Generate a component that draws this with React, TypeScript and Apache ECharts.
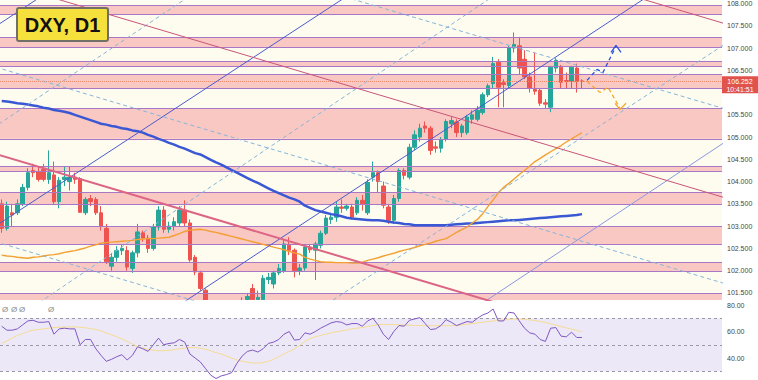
import React, { useEffect, useRef } from "react";
import * as echarts from "echarts";

// ---------- data ----------
const title = "DXY, D1";
const lastPrice = 106.252;
const countdown = "10:41:51";

// [open, close, low, high]
const candles: number[][] = [
  [103.5, 102.95, 102.85, 103.6], [102.95, 103.45, 102.9, 103.55], [103.3, 103.25, 102.98, 103.5], [103.3, 103.5, 103.25, 103.6],
  [103.5, 103.87, 103.45, 103.95], [103.87, 104.2, 103.8, 104.3], [104.25, 104.2, 104.1, 104.4], [104.22, 104.05, 104.0, 104.35],
  [104.27, 104.05, 104.0, 104.4], [104.05, 104.2, 103.95, 104.7], [104.15, 103.55, 103.5, 104.45], [103.55, 104.03, 103.4, 104.1],
  [104.05, 104.1, 103.9, 104.35], [104.0, 104.1, 103.8, 104.35], [104.1, 104.05, 103.95, 104.2], [104.07, 103.31, 103.3, 104.1],
  [103.3, 103.6, 103.25, 103.65], [103.62, 103.55, 103.45, 103.7], [103.6, 103.3, 103.25, 103.65], [103.3, 103.0, 102.9, 103.45],
  [102.95, 102.2, 102.15, 103.05], [102.1, 102.3, 102.0, 102.4], [102.3, 102.45, 102.2, 102.55], [102.45, 102.5, 102.35, 102.6],
  [102.45, 102.08, 102.0, 102.55], [102.05, 102.4, 101.95, 102.45], [102.4, 102.87, 102.3, 103.05], [102.85, 102.73, 102.65, 102.9],
  [102.73, 102.5, 102.4, 102.8], [102.5, 102.98, 102.45, 103.05], [102.98, 103.36, 102.9, 103.45], [103.36, 102.93, 102.85, 103.45],
  [102.93, 103.0, 102.85, 103.1], [103.0, 103.1, 102.9, 103.2], [103.07, 103.36, 103.0, 103.45], [103.36, 103.07, 103.0, 103.58],
  [103.07, 102.24, 102.2, 103.15], [102.3, 101.97, 101.9, 102.35], [101.95, 101.6, 101.55, 102.0], [101.56, 101.2, 101.1, 101.6],
  [101.2, 100.95, 100.85, 101.3], [100.95, 100.75, 100.6, 101.05], [100.75, 100.9, 100.65, 101.0], [100.9, 101.05, 100.8, 101.15],
  [101.05, 100.85, 100.75, 101.1], [100.85, 101.15, 100.8, 101.25], [101.15, 101.3, 101.05, 101.4], [101.35, 101.42, 101.25, 101.5],
  [101.6, 101.35, 101.25, 101.7], [101.35, 101.4, 101.3, 101.55], [101.35, 101.83, 101.3, 101.9], [101.8, 101.85, 101.7, 101.95],
  [101.7, 101.95, 101.6, 102.0], [101.95, 102.05, 101.9, 102.15], [102.0, 102.6, 101.95, 102.7], [102.57, 102.46, 102.35, 102.75],
  [102.46, 102.0, 101.85, 102.5], [102.0, 102.06, 101.9, 102.15], [102.06, 102.53, 102.0, 102.6], [102.53, 102.47, 102.4, 102.6],
  [102.46, 102.6, 101.79, 102.65], [102.57, 102.84, 102.5, 102.9], [102.84, 103.18, 102.8, 103.25], [103.15, 103.2, 103.05, 103.3],
  [103.2, 103.43, 103.1, 103.55], [103.43, 103.4, 103.3, 103.6], [103.4, 103.45, 103.35, 103.5], [103.43, 103.2, 103.15, 103.5],
  [103.3, 103.58, 103.25, 103.65], [103.58, 103.5, 103.35, 103.7], [103.3, 103.98, 103.25, 104.05], [104.1, 104.2, 104.0, 104.45],
  [104.2, 104.0, 103.75, 104.25], [103.9, 103.47, 103.4, 104.0], [103.43, 103.13, 103.05, 103.5], [103.13, 103.62, 103.05, 103.7],
  [103.62, 104.25, 103.55, 104.3], [104.25, 104.14, 104.05, 104.3], [104.1, 104.77, 104.05, 104.85], [104.77, 105.05, 104.7, 105.15],
  [105.0, 105.2, 104.9, 105.3], [105.25, 105.2, 105.1, 105.35], [105.2, 104.7, 104.6, 105.25], [104.78, 104.75, 104.65, 104.9],
  [104.75, 104.95, 104.65, 105.0], [104.95, 105.35, 104.9, 105.4], [105.3, 105.37, 105.2, 105.45], [105.34, 105.1, 105.0, 105.4],
  [105.1, 105.25, 105.0, 105.3], [105.1, 105.45, 105.05, 105.5], [105.4, 105.5, 105.3, 105.6], [105.4, 105.6, 105.35, 105.7],
  [105.55, 105.95, 105.5, 106.0], [105.95, 106.15, 105.9, 106.2], [106.2, 106.65, 106.1, 106.8], [106.68, 106.12, 105.67, 106.75],
  [106.22, 106.18, 105.67, 106.3], [106.16, 107.0, 106.1, 107.05], [107.0, 107.08, 106.9, 107.35], [107.05, 106.55, 106.4, 107.25],
  [106.75, 106.35, 106.3, 106.95], [106.35, 106.1, 106.0, 106.45], [106.07, 106.03, 105.95, 106.9], [106.05, 105.76, 105.7, 106.1],
  [105.77, 105.74, 105.65, 105.85], [105.67, 106.57, 105.56, 106.6], [106.55, 106.72, 106.45, 106.78], [106.57, 106.23, 106.1, 106.62],
  [106.27, 106.25, 106.1, 106.45], [106.25, 106.57, 106.1, 106.6], [106.55, 106.25, 106.0, 106.65], [106.26, 106.252, 106.1, 106.3],
];

const ma200 = [
  105.81, 105.8, 105.78, 105.76, 105.75, 105.73, 105.71, 105.69, 105.66, 105.64, 105.61, 105.59, 105.57, 105.54, 105.5, 105.46,
  105.42, 105.38, 105.34, 105.3, 105.28, 105.25, 105.23, 105.2, 105.18, 105.15, 105.13, 105.1, 105.05, 105.01, 104.96, 104.92,
  104.87, 104.83, 104.78, 104.74, 104.69, 104.64, 104.61, 104.55, 104.49, 104.43, 104.38, 104.32, 104.26, 104.2, 104.14, 104.08,
  104.02, 103.97, 103.91, 103.85, 103.79, 103.74, 103.69, 103.64, 103.6, 103.55, 103.46, 103.41, 103.36, 103.33, 103.3, 103.27,
  103.25, 103.22, 103.19, 103.17, 103.16, 103.15, 103.14, 103.13, 103.13, 103.12, 103.1, 103.08, 103.07, 103.05, 103.04, 103.02,
  103.02, 103.02, 103.02, 103.02, 103.02, 103.02, 103.03, 103.04, 103.05, 103.06, 103.06, 103.07, 103.08, 103.09, 103.1, 103.11,
  103.12, 103.13, 103.13, 103.14, 103.15, 103.16, 103.17, 103.18, 103.19, 103.2, 103.21, 103.22, 103.23, 103.24, 103.25, 103.27,
];

const ma50 = [
  102.35, 102.33, 102.32, 102.3, 102.29, 102.28, 102.3, 102.31, 102.33, 102.35, 102.36, 102.38, 102.41, 102.43, 102.45, 102.48,
  102.51, 102.55, 102.58, 102.62, 102.63, 102.64, 102.65, 102.66, 102.67, 102.68, 102.7, 102.71, 102.72, 102.72, 102.73, 102.74,
  102.75, 102.79, 102.83, 102.88, 102.91, 102.92, 102.93, 102.91, 102.88, 102.86, 102.83, 102.8, 102.77, 102.74, 102.71, 102.68,
  102.65, 102.62, 102.59, 102.56, 102.53, 102.5, 102.47, 102.43, 102.4, 102.37, 102.3, 102.26, 102.23, 102.2, 102.19, 102.19,
  102.18, 102.18, 102.18, 102.17, 102.17, 102.19, 102.23, 102.26, 102.29, 102.33, 102.36, 102.39, 102.43, 102.46, 102.49, 102.52,
  102.56, 102.59, 102.62, 102.66, 102.69, 102.72, 102.79, 102.86, 102.92, 102.98, 103.07, 103.15, 103.28, 103.44, 103.59, 103.75,
  103.87, 103.96, 104.06, 104.16, 104.25, 104.35, 104.45, 104.52, 104.6, 104.67, 104.74, 104.81, 104.89, 104.96, 105.03, 105.1,
];

const rsi = [
  64, 61, 61, 62, 65, 68, 68.5, 67, 67, 67.5, 58, 62, 62.5, 62, 62, 50,
  54, 54, 47, 42, 37.5, 39, 41, 42.5, 38.5, 42, 48.5, 47, 45, 50, 55, 50,
  51, 51.5, 54, 52, 43, 40, 37, 32, 27, 24.5, 26.5, 27.5, 29, 36, 41.5, 45,
  46, 44.5, 47, 51, 52, 54, 58, 60, 53.5, 54, 59, 58, 60, 62.5, 64.5, 66.5,
  67.5, 67, 65, 66, 66, 64, 68, 70, 65, 58, 54, 60, 64.5, 64, 68.5, 69.5,
  70.5, 66, 61.5, 62, 64.5, 69, 67, 64.5, 66, 67.5, 67, 70, 72.5, 74, 77, 68,
  68, 74.5, 74, 68, 62.5, 59, 58, 54, 52.5, 62.5, 63, 56.5, 56, 59.5, 55.5, 55.5,
];

const rsiMa = [
  51, 53, 55, 57, 58.5, 60, 61, 61.5, 62, 62.5, 63, 63.2, 63.4, 63.5, 63.5, 63.2,
  62.8, 62.3, 61.5, 60.5, 59, 57.5, 56, 54.5, 52.5, 50.5, 48.5, 47.5, 46.5, 45.8, 45.5, 45.5,
  45.8, 46.3, 47, 47.5, 48, 47.8, 47.5, 46.5, 45.5, 44, 43, 41.5, 40, 38.5, 37.5, 36.8,
  36.3, 36.2, 36.5, 37.5, 39, 41, 43, 45, 47, 49.5, 52.5, 54.7, 56, 57, 58, 59,
  59.8, 60.5, 61.2, 62, 62.6, 63, 63.8, 64.5, 65.2, 65.4, 65.3, 65.2, 65, 64.9, 64.8, 64.6,
  64.5, 64.4, 64.4, 64.4, 64.4, 64.4, 64.4, 64.6, 65, 65.5, 66, 66.5, 67, 67.5, 68, 68.4,
  68.8, 69.2, 69.5, 69.5, 69.2, 68.8, 68.3, 67.6, 66.8, 65.8, 64.8, 63.8, 62.8, 61.8, 60.8, 59.8,
];

const priceTicks = [101.5, 102, 102.5, 103, 103.5, 104, 104.5, 105, 105.5, 106.5, 107, 107.5, 108];
const rsiTicks = [40, 60, 80];
const rsiLevels = [70, 50, 30];

// support / resistance zones [low, high]
const zones = [
  [107.75, 107.955], [107.01, 107.24], [106.59, 106.7], [106.09, 106.41], [104.96, 105.65],
  [104.23, 104.35], [103.49, 103.76], [102.6, 103.0], [101.99, 102.19], [101.341, 101.5],
];

// drawn trend lines: [[barIndex, price], [barIndex, price]]
const blueChannel = [
  [[-5, 107.191], [142, 118.513]],
  [[-5, 102.709], [142, 113.996]],
  [[-5, 98.213], [142, 109.585]],
];
const blueChannelFaint = [[[-5, 93.713], [142, 105.173]]];
const dashedRising = [
  [[-5, 104.942], [142, 116.52]],
  [[-5, 100.318], [142, 111.966]],
  [[-5, 96.099], [142, 107.368]],
];
const dashedFalling = [
  [[-5, 110.59], [142, 105.507]],
  [[-5, 106.706], [142, 101.581]],
  [[-5, 102.782], [142, 97.657]],
];
const redThin = [
  [[-5, 112.554], [142, 107.419]],
  [[-5, 108.645], [142, 103.509]],
];
const redThick = [[[-5, 104.756], [142, 99.621]]];
const projUp = [[111.96, 106.274], [113.87, 106.52], [115.01, 106.453], [117.5, 107.036]];
const projUpHead = [[116.55, 106.901], [117.5, 107.058], [118.46, 106.901]];
const projDown = [[111.96, 106.251], [114.44, 106.004], [115.97, 106.117], [118.27, 105.646]];
const projDownHead = [[117.31, 105.758], [118.27, 105.623], [119.42, 105.758]];

const legendMarks = ["Ø", "Ø", "Ø", "Ø"];

// ---------- chart ----------
const X_MIN = -0.325;
const X_MAX = 137.78;
const UP = "#26a69a";
const DOWN = "#ef5350";
const FONT = "'Liberation Sans', Arial, sans-serif";

function line(data: number[][], color: string, width: number, type: any = "solid", z = 4, xi = 0) {
  return {
    type: "line",
    xAxisIndex: xi,
    yAxisIndex: xi,
    data,
    showSymbol: false,
    symbol: "none",
    silent: true,
    clip: true,
    z,
    lineStyle: { color, width, type },
  };
}

export default function App() {
  const ref = useRef<HTMLDivElement>(null);
  useEffect(() => {
    if (!ref.current) return;
    const chart = echarts.init(ref.current, undefined, { renderer: "svg" });

    const boundaries: any[] = [];
    zones.forEach((z) => {
      if (z[0] > 101.35) boundaries.push({ yAxis: z[0] });
      boundaries.push({ yAxis: z[1] });
    });

    const series: any[] = [
      {
        type: "candlestick",
        xAxisIndex: 0,
        yAxisIndex: 0,
        data: candles.map((c, i) => [i, c[0], c[1], c[2], c[3]]),
        barWidth: 4,
        clip: true,
        z: 3,
        itemStyle: { color: UP, color0: DOWN, borderColor: UP, borderColor0: DOWN, borderWidth: 1 },
        markArea: {
          silent: true,
          itemStyle: { color: "#fac8c2" },
          data: zones.map((z) => [{ yAxis: z[0] }, { yAxis: z[1] }]),
        },
        markLine: {
          silent: true,
          symbol: "none",
          label: { show: false },
          lineStyle: { color: "#a877c6", width: 1, type: "solid" },
          data: [
            ...boundaries,
            { yAxis: lastPrice, lineStyle: { color: "#f08a6a", width: 1, type: "dotted" } },
          ],
        },
      },
      line(ma200.map((v, i) => [i, v]), "#3a58d4", 2.5, "solid", 5),
      line(ma50.map((v, i) => [i, v]), "#f2a033", 1.4, "solid", 5),
      ...blueChannel.map((d) => line(d, "#4a5bd0", 1, "solid", 6)),
      ...blueChannelFaint.map((d) => line(d, "#8a97e0", 1, "solid", 6)),
      ...dashedRising.map((d) => line(d, "#86b4dc", 1, [4, 3], 6)),
      ...dashedFalling.map((d) => line(d, "#86b4dc", 1, [4, 3], 6)),
      ...redThin.map((d) => line(d, "#c9557a", 1, "solid", 6)),
      ...redThick.map((d) => line(d, "#dc6485", 2, "solid", 6)),
      line(projUp, "#2c4fe0", 1.3, [4, 3], 7),
      line(projUpHead, "#2c4fe0", 1.3, "solid", 7),
      line(projDown, "#f5a623", 1.3, [4, 3], 7),
      line(projDownHead, "#f5a623", 1.3, "solid", 7),
      {
        ...line(rsi.map((v, i) => [i, v]), "#7e57c2", 1, "solid", 6, 1),
        markArea: {
          silent: true,
          itemStyle: { color: "#ede8f7" },
          data: [[{ yAxis: rsiLevels[2] }, { yAxis: rsiLevels[0] }]],
        },
        markLine: {
          silent: true,
          symbol: "none",
          label: { show: false },
          lineStyle: { color: "#9a9aa6", width: 1, type: [3, 3] },
          data: rsiLevels.map((v) => ({ yAxis: v })),
        },
      },
      line(rsiMa.map((v, i) => [i, v]), "#f4dc92", 1, "solid", 5, 1),
    ];

    const axisLabelBase = { fontSize: 7, color: "#444", margin: 5, fontFamily: FONT };

    const option: any = {
      animation: false,
      backgroundColor: "#ffffff",
      grid: [
        { left: 0, top: 0, width: 722, height: 300, show: true, backgroundColor: "#fdfcee", borderWidth: 0 },
        { left: 0, top: 300, width: 722, height: 80, show: true, backgroundColor: "#ffffff", borderWidth: 0 },
      ],
      xAxis: [
        { type: "value", gridIndex: 0, min: X_MIN, max: X_MAX, show: false },
        { type: "value", gridIndex: 1, min: X_MIN, max: X_MAX, show: false },
      ],
      yAxis: [
        {
          type: "value", gridIndex: 0, position: "right", min: 101.341, max: 108.067,
          axisLine: { show: false }, axisTick: { show: false }, splitLine: { show: false },
          axisLabel: { ...axisLabelBase, customValues: priceTicks, formatter: (v: number) => v.toFixed(3) },
        },
        {
          type: "value", gridIndex: 1, position: "right", min: 23.4, max: 83.8,
          axisLine: { show: false }, axisTick: { show: false }, splitLine: { show: false },
          axisLabel: { ...axisLabelBase, customValues: rsiTicks, formatter: (v: number) => v.toFixed(2) },
        },
      ],
      series,
    };
    chart.setOption(option);

    const py = chart.convertToPixel({ yAxisIndex: 0 } as any, lastPrice) as number;
    const graphics: any[] = [
      // pane separator: hides the part of candles that falls below the price pane
      {
        type: "rect", x: 0, y: 300, z: 4, silent: true,
        shape: { x: 0, y: 0, width: 722, height: 17.5 },
        style: { fill: "#ffffff" },
      },
      {
        type: "rect", x: 17, y: 8, z: 100,
        shape: { x: 0, y: 0, width: 91, height: 33, r: 2 },
        style: { fill: "#f6e03c", stroke: "#707068", lineWidth: 2 },
      },
      {
        type: "text", x: 62.5, y: 25, z: 101,
        style: { text: title, fill: "#111", font: `bold 20px ${FONT}`, align: "center", verticalAlign: "middle", textAlign: "center", textVerticalAlign: "middle" },
      },
      {
        type: "rect", x: 722, y: py - 5, z: 100,
        shape: { x: 0, y: 0, width: 36, height: 17 },
        style: { fill: "#e0534c" },
      },
      {
        type: "text", x: 740, y: py, z: 101,
        style: { text: lastPrice.toFixed(3), fill: "#fff", font: `7px ${FONT}`, align: "center", verticalAlign: "middle", textAlign: "center", textVerticalAlign: "middle" },
      },
      {
        type: "text", x: 740, y: py + 8, z: 101,
        style: { text: countdown, fill: "#fff", font: `7px ${FONT}`, align: "center", verticalAlign: "middle", textAlign: "center", textVerticalAlign: "middle" },
      },
      ...legendMarks.map((m, i) => ({
        type: "text", x: [5, 14, 22, 51][i], y: 309, z: 101,
        style: { text: m, fill: "#8a8a8a", font: `8px ${FONT}`, align: "center", verticalAlign: "middle", textAlign: "center", textVerticalAlign: "middle" },
      })),
    ];
    chart.setOption({ graphic: graphics });

    return () => chart.dispose();
  }, []);

  return (
    <div
      ref={ref}
      style={{ position: "fixed", left: 0, top: 0, width: 758, height: 380, background: "#fff" }}
    />
  );
}
